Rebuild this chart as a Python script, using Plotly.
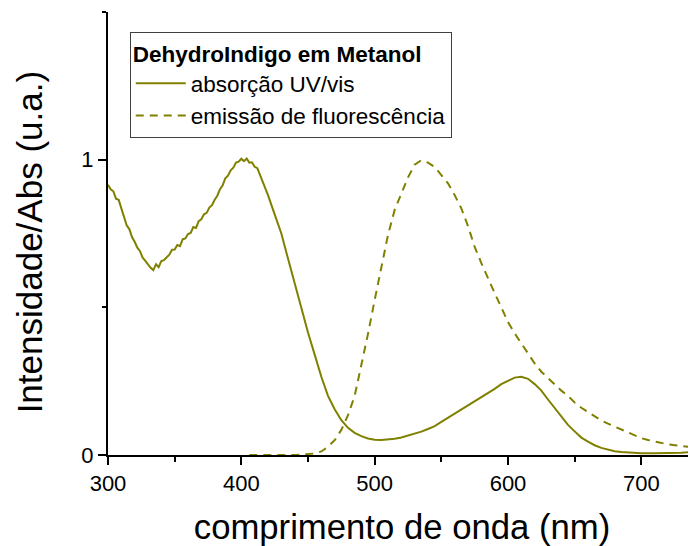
import plotly.graph_objects as go

# Absorption UV/vis (normalized)
abs_x = [300, 302, 304, 306, 308, 310, 312, 314, 316, 318, 320, 322, 324, 326, 328, 330,
         332, 334, 336, 338, 340, 342, 344, 346, 348, 350, 352, 354, 356, 358, 360, 362,
         364, 366, 368, 370, 372, 374, 376, 378, 380, 382, 384, 386, 388, 390, 392, 394,
         396, 398, 400, 402, 404, 406, 408, 410, 412, 414, 416, 418, 420, 425, 430, 435,
         440, 445, 450, 455, 460, 465, 470, 475, 480, 485, 490, 495, 500, 505, 510, 515,
         520, 525, 530, 535, 540, 545, 550, 555, 560, 565, 570, 575, 580, 585, 590, 595,
         600, 605, 610, 615, 620, 625, 630, 635, 640, 645, 650, 655, 660, 665, 670, 675,
         680, 685, 690, 700, 710, 720, 730, 741]
abs_y = [0.915, 0.900, 0.893, 0.868, 0.864, 0.833, 0.808, 0.778, 0.765, 0.738, 0.722, 0.702,
         0.690, 0.668, 0.657, 0.645, 0.634, 0.626, 0.646, 0.636, 0.657, 0.660, 0.671, 0.678,
         0.695, 0.696, 0.711, 0.707, 0.730, 0.733, 0.748, 0.752, 0.772, 0.769, 0.792, 0.798,
         0.815, 0.820, 0.838, 0.846, 0.864, 0.878, 0.900, 0.913, 0.937, 0.946, 0.964, 0.973,
         0.990, 0.993, 1.003, 0.995, 1.004, 0.990, 0.991, 0.976, 0.971, 0.948, 0.931, 0.903,
         0.880, 0.815, 0.750, 0.665, 0.580, 0.495, 0.415, 0.340, 0.265, 0.200, 0.155, 0.118,
         0.092, 0.075, 0.064, 0.056, 0.052, 0.051, 0.052, 0.055, 0.059, 0.066, 0.071, 0.079,
         0.088, 0.098, 0.112, 0.126, 0.140, 0.153, 0.166, 0.180, 0.194, 0.208, 0.224, 0.240,
         0.252, 0.262, 0.265, 0.258, 0.240, 0.218, 0.188, 0.158, 0.128, 0.102, 0.080, 0.059,
         0.045, 0.033, 0.024, 0.018, 0.013, 0.010, 0.008, 0.006, 0.006, 0.006, 0.008, 0.011]

# Fluorescence emission (normalized)
em_x = [406, 420, 440, 455, 460, 465, 470, 475, 480, 485, 490, 495, 500, 505, 510, 515,
        520, 525, 530, 535, 540, 545, 550, 555, 560, 565, 570, 575, 580, 585, 590, 595,
        600, 605, 610, 615, 620, 625, 630, 635, 640, 645, 650, 655, 660, 665, 670, 675,
        680, 685, 690, 695, 700, 705, 710, 715, 720, 725, 730, 735, 741]
em_y = [0.0, 0.0, 0.0, 0.005, 0.012, 0.028, 0.050, 0.085, 0.135, 0.200, 0.300, 0.410,
        0.525, 0.640, 0.745, 0.830, 0.885, 0.940, 0.983, 0.998, 0.990, 0.975, 0.948, 0.920,
        0.880, 0.835, 0.775, 0.705, 0.650, 0.597, 0.548, 0.500, 0.450, 0.412, 0.377, 0.342,
        0.310, 0.282, 0.260, 0.238, 0.218, 0.200, 0.178, 0.160, 0.145, 0.130, 0.117, 0.106,
        0.096, 0.085, 0.075, 0.065, 0.057, 0.051, 0.046, 0.040, 0.036, 0.033, 0.030, 0.028,
        0.026]

x_ticks = [300, 400, 500, 600, 700]
y_ticks = [0, 1]
y_tick_text = ["0", "1"]

legend_title = "DehydroIndigo em Metanol"
name_abs = "absorção UV/vis"
name_em = "emissão de fluorescência"
x_title = "comprimento de onda (nm)"
y_title = "Intensidade/Abs (u.a.)"

OLIVE = "#808000"
FONT = "Liberation Sans, Arial, sans-serif"

fig = go.Figure()
fig.add_trace(go.Scatter(x=abs_x, y=abs_y, mode="lines", name=name_abs,
                         line=dict(color=OLIVE, width=2)))
fig.add_trace(go.Scatter(x=em_x, y=em_y, mode="lines", name=name_em,
                         line=dict(color=OLIVE, width=2, dash="8px,6px")))

# page body has an 8px margin: figure is 688x538 placed at (8, 8)
fig.update_layout(
    width=688, height=538,
    margin=dict(l=100, r=0, t=4, b=91, autoexpand=False),
    paper_bgcolor="white", plot_bgcolor="white",
    font=dict(family=FONT, color="black", size=22),
    showlegend=True,
    legend=dict(
        x=0.037, y=0.955, xanchor="left", yanchor="top",
        bgcolor="white", bordercolor="#404040", borderwidth=1,
        font=dict(family=FONT, size=22.5, color="black"),
        title=dict(text="<b>" + legend_title + "</b>", font=dict(family=FONT, size=22.5)),
        tracegroupgap=0, itemwidth=50,
    ),
    xaxis=dict(
        range=[300, 741], tickmode="array", tickvals=x_ticks, automargin=False,
        ticks="outside", ticklen=8, tickwidth=1.5, tickcolor="black", ticklabelstandoff=0,
        showline=True, linecolor="black", linewidth=2, showgrid=False, zeroline=False,
        tickfont=dict(family=FONT, size=22, color="black"),
        minor=dict(dtick=50, tick0=300, ticks="outside", ticklen=5, tickwidth=1.5, tickcolor="black"),
        title=dict(text=x_title, font=dict(family=FONT, size=34.7, color="black"), standoff=29),
    ),
    yaxis=dict(
        range=[0, 1.5], tickmode="array", tickvals=y_ticks, ticktext=y_tick_text, automargin=False,
        ticks="outside", ticklen=8, tickwidth=1.5, tickcolor="black",
        showline=True, linecolor="black", linewidth=2, showgrid=False, zeroline=False,
        tickfont=dict(family=FONT, size=22, color="black"),
        minor=dict(tickmode="array", tickvals=[0.5, 1.5], ticks="outside", ticklen=4,
                   tickwidth=1.5, tickcolor="black"),
    ),
    annotations=[dict(
        text=y_title, xref="paper", yref="paper", x=-0.1336, y=0.481,
        xanchor="center", yanchor="middle", textangle=-90, showarrow=False,
        font=dict(family=FONT, size=35, color="black"),
    )],
)

fig.write_html("out.html")
